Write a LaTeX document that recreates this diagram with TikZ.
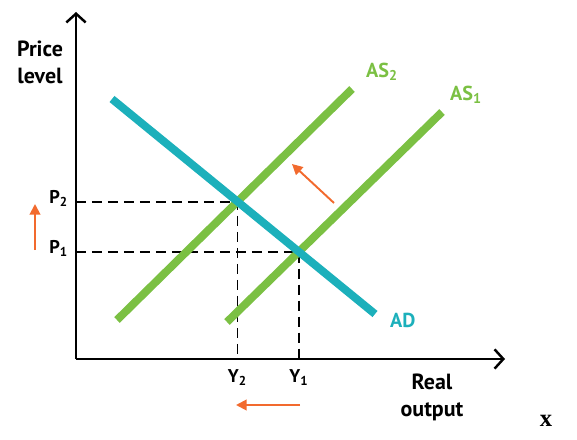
\documentclass[tikz,border=0pt]{standalone}
\usepackage{fontspec}
\setmainfont{PT Sans}
\newfontfamily\markfont{Liberation Serif}
\usetikzlibrary{positioning, arrows.meta, intersections, calc}
\definecolor{adteal}{HTML}{1CB0BB}
\definecolor{asgreen}{HTML}{7BC043}
\definecolor{shiftorange}{HTML}{F26A2E}

\begin{document}
\begin{tikzpicture}[
    x=0.02cm, y=-0.02cm,
    every node/.style={font=\bfseries\fontsize{12.5}{15.3}\selectfont},
    axis/.style={line width=1.4pt, -{Straight Barb[length=5pt, width=11pt, line width=1.4pt]}},
    curve/.style={line width=4.5pt},
    guide/.style={line width=1.1pt, dash pattern=on 5.7pt off 3.4pt},
    shiftarrow/.style={line width=1.1pt, shiftorange, -{Triangle[length=6pt, width=6pt]}},
    ticklabel/.style={font=\bfseries\fontsize{10.5}{12}\selectfont, inner sep=2pt},
    curvelabel/.style={font=\bfseries\fontsize{11.5}{13}\selectfont, inner sep=1pt},
  ]
  \useasboundingbox (0,0) rectangle (577,439);

  % axes
  \coordinate (O) at (76,359);
  \coordinate (ytop) at (76,12);
  \coordinate (xend) at (505,359);
  \draw[axis] (O) -- (ytop);
  \draw[axis] (O) -- (xend);
  \node[align=center] (pl) at (40,62) {Price\\level};
  \node[align=center] (ro) at (432,397) {Real\\output};

  % curves and equilibria
  \path[name path=ad] (112,99) coordinate (adstart) -- (375,314) coordinate (adend);
  \path[name path=as2] (117,320) coordinate (as2start) -- (352,89) coordinate (as2end);
  \path[name path=as1] (227,322) coordinate (as1start) -- (442,112) coordinate (as1end);
  \path[name intersections={of=ad and as2, by=E2}];
  \path[name intersections={of=ad and as1, by=E1}];

  \draw[guide] (E2 -| O) -- (E2) -- (E2 |- O);
  \draw[guide] (E1 -| O) -- (E1) -- (E1 |- O);

  \draw[curve, asgreen] (as2start) -- (as2end);
  \draw[curve, asgreen] (as1start) -- (as1end);
  \draw[curve, adteal] (adstart) -- (adend);

  \node[curvelabel, asgreen, anchor=south west] (as2lab) at ($(as2end)+(12,-6)$) {AS\textsubscript{2}};
  \node[curvelabel, asgreen, anchor=south west] (as1lab) at ($(as1end)+(6,-6)$) {AS\textsubscript{1}};
  \node[curvelabel, adteal, anchor=west] (adlab) at ($(adend)+(13,6)$) {AD};

  \node[ticklabel, anchor=east] (p2) at ($(E2 -| O)+(-4,-3)$) {P\textsubscript{2}};
  \node[ticklabel, anchor=east] (p1) at ($(E1 -| O)+(-4,-3)$) {P\textsubscript{1}};
  \node[ticklabel, anchor=north] (y2) at ($(E2 |- O)+(0,7)$) {Y\textsubscript{2}};
  \node[ticklabel, anchor=north] (y1) at ($(E1 |- O)+(0,7)$) {Y\textsubscript{1}};

  % shifts
  \coordinate (pa) at (35,250);
  \coordinate (pb) at (35,204);
  \coordinate (ya) at (300,405);
  \coordinate (yb) at (236,405);
  \coordinate (sa) at (334,203);
  \coordinate (sb) at (292,164);
  \draw[shiftarrow] (pa) -- (pb);
  \draw[shiftarrow] (ya) -- (yb);
  \draw[shiftarrow] (sa) -- (sb);

  \node[font=\markfont\bfseries\fontsize{14}{16}\selectfont] (mark) at (546,421) {x};
\end{tikzpicture}
\end{document}
